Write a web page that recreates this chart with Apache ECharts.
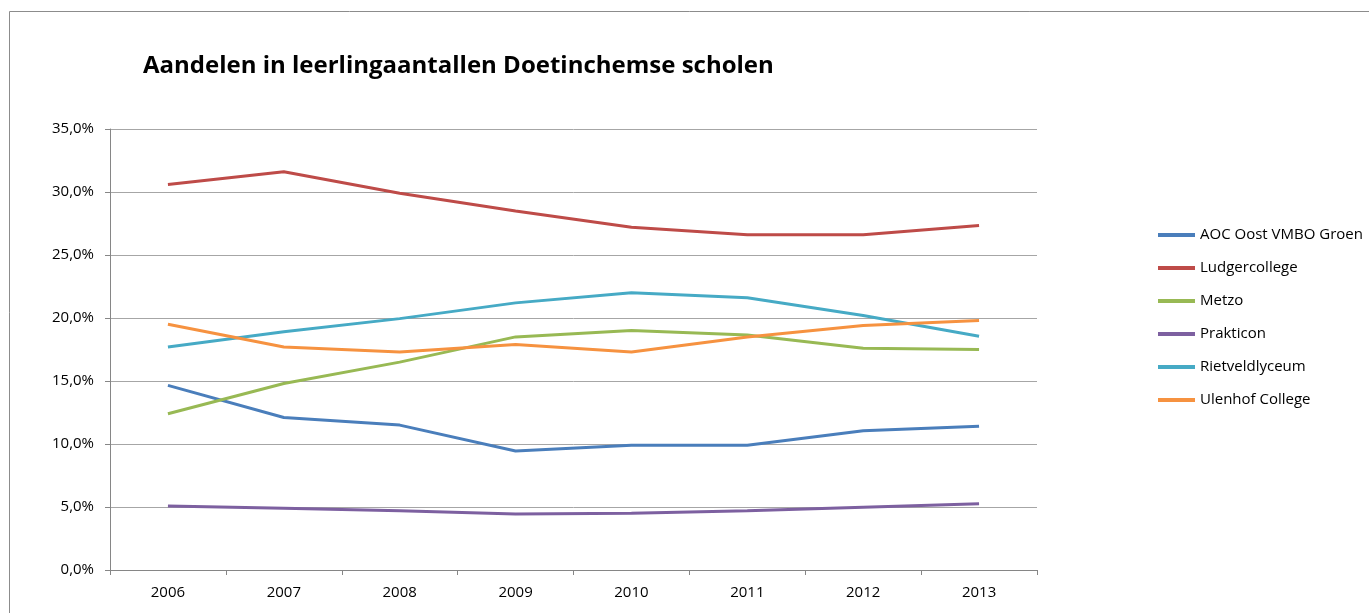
<!DOCTYPE html>
<html>
<head>
<meta charset="utf-8">
<title>Aandelen in leerlingaantallen Doetinchemse scholen</title>
<script src="https://cdn.jsdelivr.net/npm/echarts@6/dist/echarts.min.js"></script>
<style>
  html, body { margin: 0; padding: 0; background: #fff; }
  #chart { width: 1369px; height: 613px; }
</style>
</head>
<body>
<div id="chart"></div>
<script>
// jaren (categorieen)
var years = ['2006', '2007', '2008', '2009', '2010', '2011', '2012', '2013'];
// aandelen per school, in procenten
var aocOost = [14.65, 12.1, 11.5, 9.45, 9.9, 9.9, 11.05, 11.4];
var ludger = [30.6, 31.6, 29.9, 28.5, 27.2, 26.6, 26.6, 27.35];
var metzo = [12.4, 14.8, 16.5, 18.5, 19.0, 18.65, 17.6, 17.5];
var prakticon = [5.08, 4.9, 4.7, 4.45, 4.5, 4.7, 4.98, 5.26];
var rietveld = [17.7, 18.9, 19.95, 21.2, 22.0, 21.6, 20.2, 18.55];
var ulenhof = [19.5, 17.7, 17.3, 17.9, 17.3, 18.5, 19.4, 19.8];
var schoolNames = ['AOC Oost VMBO Groen', 'Ludgercollege', 'Metzo', 'Prakticon', 'Rietveldlyceum', 'Ulenhof College'];
var schoolData = [aocOost, ludger, metzo, prakticon, rietveld, ulenhof];
var schoolColors = ['#4a7ebb', '#be4b48', '#98b954', '#7d60a0', '#46aac5', '#f69240'];

var font = '"Open Sans", "Noto Sans", sans-serif';
var myChart = echarts.init(document.getElementById('chart'));

var series = schoolNames.map(function (name, i) {
    return {
        name: name,
        type: 'line',
        data: schoolData[i],
        symbol: 'none',
        lineStyle: { width: 3, color: schoolColors[i] },
        itemStyle: { color: schoolColors[i] }
    };
});

var options = {
    animation: false,
    backgroundColor: '#fff',
    textStyle: { fontFamily: font },
    // buitenrand van de grafiek
    graphic: [{
        type: 'rect',
        left: 7, top: 9,
        shape: { x: 0, y: 0, width: 1400, height: 700 },
        style: { fill: 'none', stroke: '#8c8c8c', lineWidth: 1 },
        silent: true
    }],
    title: {
        text: 'Aandelen in leerlingaantallen Doetinchemse scholen',
        left: 138, top: 49,
        textStyle: { fontFamily: font, fontSize: 24, fontWeight: 'bold', color: '#000' }
    },
    legend: {
        orient: 'vertical',
        left: 1153, top: 221,
        icon: 'rect',
        itemWidth: 37, itemHeight: 4,
        itemGap: 15,
        textStyle: { fontFamily: font, fontSize: 15, color: '#000', lineHeight: 18 },
        data: schoolNames
    },
    grid: { left: 110, right: 332, top: 129, bottom: 43, containLabel: false },
    xAxis: {
        type: 'category',
        data: years,
        boundaryGap: true,
        axisLine: { lineStyle: { color: '#868686', width: 1 } },
        axisTick: { show: true, length: 5, interval: 0, lineStyle: { color: '#868686' } },
        axisLabel: { color: '#000', fontSize: 15, fontFamily: font, margin: 15 },
        splitLine: { show: false }
    },
    yAxis: {
        type: 'value',
        min: 0, max: 35, interval: 5,
        axisLine: { show: true, lineStyle: { color: '#868686', width: 1 } },
        axisTick: { show: true, length: 5, lineStyle: { color: '#868686' } },
        axisLabel: {
            color: '#000', fontSize: 15, fontFamily: font, margin: 16,
            formatter: function (v) { return v.toFixed(1).replace('.', ',') + '%'; }
        },
        splitLine: { lineStyle: { color: '#a6a6a6', width: 1 } }
    },
    series: series
};
myChart.setOption(options);
</script>
</body>
</html>
